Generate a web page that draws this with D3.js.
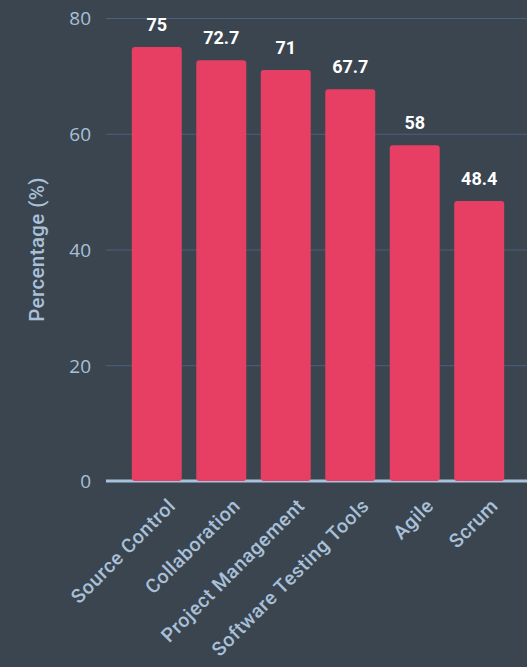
<!DOCTYPE html>
<html>
<head>
<meta charset="utf-8">
<script src="https://cdn.jsdelivr.net/npm/d3@7"></script>
<style>
  html, body { margin: 0; padding: 0; background: #3a4550; overflow: hidden; }
  svg { display: block; }
</style>
</head>
<body>
<svg id="chart" width="527" height="667"></svg>
<script>
// Share of respondents using each tool category
const categories = ["Source Control", "Collaboration", "Project Management", "Software Testing Tools", "Agile", "Scrum"];
const values = [75, 72.7, 71, 67.7, 58, 48.4];
const yTicks = [0, 20, 40, 60, 80];

const width = 527, height = 667;
const margin = { top: 18, left: 106, bottom: 186 };
const plotBottom = height - margin.bottom;
const axisColor = "#a9c0d8";

const svg = d3.select("#chart");
svg.append("rect").attr("width", width).attr("height", height).attr("fill", "#3a4550");

const x = d3.scaleBand()
  .domain(categories)
  .range([margin.left, 530])
  .paddingInner(0.225)
  .paddingOuter(0.4);

const y = d3.scaleLinear()
  .domain([0, 80])
  .range([plotBottom, margin.top]);

// Horizontal gridlines and tick labels
const yAxis = d3.axisLeft(y)
  .tickValues(yTicks)
  .tickSize(-(width - margin.left))
  .tickPadding(15);

const gy = svg.append("g")
  .attr("transform", `translate(${margin.left},0)`)
  .call(yAxis);
gy.select(".domain").remove();
gy.selectAll(".tick line")
  .attr("stroke", "#4b5f80")
  .attr("stroke-width", 1);
gy.selectAll(".tick text")
  .attr("fill", axisColor)
  .attr("dy", "0.36em")
  .style("font-family", "'Open Sans', sans-serif")
  .style("font-size", "19px");
gy.selectAll(".tick").filter(d => d === 0).select("line").remove();

// Axis title
svg.append("text")
  .attr("transform", `translate(44, ${(margin.top + plotBottom) / 2}) rotate(-90)`)
  .attr("text-anchor", "middle")
  .attr("fill", axisColor)
  .style("font-family", "Roboto, sans-serif")
  .style("font-weight", 500)
  .style("font-size", "20.5px")
  .style("letter-spacing", "0.4px")
  .text("Percentage (%)");

// Baseline
svg.append("line")
  .attr("x1", margin.left).attr("x2", width)
  .attr("y1", y(0)).attr("y2", y(0))
  .attr("stroke", "#a8c2dc")
  .attr("stroke-width", 3);

// Bars
svg.append("g").selectAll("rect")
  .data(values)
  .join("rect")
  .attr("x", (d, i) => x(categories[i]))
  .attr("y", d => y(d))
  .attr("width", x.bandwidth())
  .attr("height", d => y(0) - y(d))
  .attr("rx", 3)
  .attr("fill", "#e63f63");

// Value labels
svg.append("g").selectAll("text")
  .data(values)
  .join("text")
  .attr("x", (d, i) => x(categories[i]) + x.bandwidth() / 2)
  .attr("y", d => y(d) - 16)
  .attr("text-anchor", "middle")
  .attr("fill", "#ffffff")
  .style("font-family", "Roboto, sans-serif")
  .style("font-weight", "bold")
  .style("font-size", "18px")
  .text(d => d);

// Category labels, rotated
svg.append("g").selectAll("text")
  .data(categories)
  .join("text")
  .attr("transform", d => `translate(${x(d) + x.bandwidth() / 2 + 20}, ${plotBottom + 26}) rotate(-45)`)
  .attr("text-anchor", "end")
  .attr("fill", axisColor)
  .style("font-family", "Roboto, sans-serif")
  .style("font-weight", 500)
  .style("font-size", "19.5px")
  .style("letter-spacing", "0.6px")
  .text(d => d);
</script>
</body>
</html>
